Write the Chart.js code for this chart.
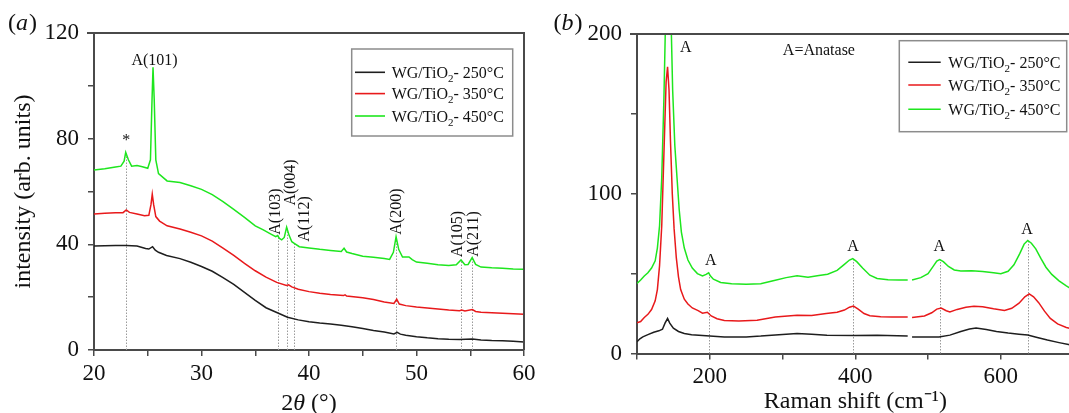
<!DOCTYPE html>
<html><head><meta charset="utf-8">
<script src="https://cdn.jsdelivr.net/npm/chart.js@4"></script>
<style>
html,body{margin:0;padding:0;background:#fff;overflow:hidden;width:1069px;height:413px;position:relative;}
#ca{position:absolute;left:0;top:0;}
#cb{position:absolute;left:540px;top:0;}
</style></head><body>
<canvas id="ca" width="540" height="413"></canvas>
<canvas id="cb" width="560" height="413"></canvas>
<script>
// ---------- DATA ----------
const seriesTemps = ['250°C', '350°C', '450°C'];
const seriesColors = ['#1e1e1e', '#e8191b', '#1ee61e'];

// (a) XRD
const xrdX_250 = [20,21,22,23,24,24.8,25.1,25.45,25.7,26,26.75,28,29,30,31,32,33,34,35,36,37,38,39,40,41,42,43,44,45,46,47,47.9,48.2,48.5,49,50,51,52,53,54,55.2,56,57,58,59,60];
const xrdY_250 = [39.4,39.5,39.6,39.6,39.4,38.4,38.2,39.1,37.8,37,35.8,34.6,33.2,31.6,29.8,27.4,24.8,21.8,18.8,16,14.2,12.4,11.4,10.7,10.2,9.8,9.4,8.8,8.1,7.4,6.8,6.1,6.7,6.0,5.6,5.0,4.6,4.3,4.1,4.0,4.2,3.8,3.6,3.5,3.3,3.0];

const xrdX_350 = [20,21,22,22.7,23,23.3,24,24.7,25.1,25.3,25.42,25.55,25.75,26.1,26.8,28,29,30,31,32,33,34,35,36,37,37.9,38.1,38.4,39,40,41,42,43.2,43.35,43.5,45,46,47,47.9,48.16,48.4,49,50,51,52,53,54,54.2,54.5,55.2,55.5,56,57,58,59,60];
const xrdY_350 = [51.5,51.8,52,52,53,52.1,51.5,50.8,51,55,59,55,50.5,48.8,47,45.8,44.6,43.2,41.2,38.6,35.8,32.8,30,27.6,25.6,24.4,24.7,23.9,23,22.1,21.5,21,20.6,20.9,20.4,19.8,19.1,18.2,17.6,19.2,17.4,16.8,16.3,15.9,15.5,15.1,14.9,15.1,14.8,15.3,14.6,14.3,14.1,13.9,13.7,13.5];

const xrdX_450 = [20,21,22,22.5,22.8,22.95,23.2,23.5,24,24.5,25,25.25,25.4,25.49,25.6,25.75,26,26.8,28,29,30,31,32,33,34,35,35.75,36.5,36.9,37.08,37.25,37.46,37.7,37.92,38.15,38.4,38.63,39.1,40,41,42,43,43.26,43.5,44,45,46,47,47.5,47.85,48.1,48.35,48.7,49.3,49.6,50,51,52,53,53.7,54.14,54.5,54.8,55.18,55.5,56,57,58,59,60];
const xrdY_450 = [68.1,68.6,69.3,69.6,71.5,74.8,72,69.6,69.8,69.4,68.8,72,95,107,95,72,66.8,64,63.4,62.2,60.8,58.8,56.2,53.2,50.2,47,45.5,43.8,42.9,43.3,42.2,41.7,42.6,46.5,43.4,41,40.4,39.1,38.6,38.1,37.7,37.3,38.5,37.1,36.5,35.5,35.1,34.6,34.3,37,42.9,38,35.2,35.2,34.2,33.3,32.8,32.3,32,32.3,34.1,32.3,32.4,35,32.4,31.4,31.1,30.9,30.7,30.6];

const xrdPeakX   = [22.95, 37.08, 37.92, 38.63, 48.1, 54.14, 55.18];
const xrdPeakTop = [74.8, 43.3, 46.5, 40.4, 42.9, 34.1, 35];
const xrdFlatLabels = ['*', 'A(101)'];
const xrdFlatX = [23.0, 25.63];
const xrdFlatY = [79.7, 109.7];
const xrdVertLabels = ['A(103)', 'A(004)', 'A(112)', 'A(200)', 'A(105)', 'A(211)'];
const xrdVertX = [36.85, 38.17, 39.47, 48.1, 53.75, 55.25];
const xrdVertY = [52.4, 63.4, 49.6, 52.4, 43.9, 43.9];

// (b) Raman
const ramX_250 = [100,104,108,115,123,130,135,138.5,142,145,150,157,165,175,185,200,220,250,270,295,320,340,361,400,430,472,475,478,500,515,530,545,557,566,580,594,610,625,637,650,664,680,693,700];
const ramY_250 = [7.3,9.2,10.4,11.8,13.3,14.2,15.2,19,21.9,19,15.8,13.8,12.5,11.8,11.4,10.9,10.4,10.4,10.9,11.8,12.5,12.1,11.5,11.3,11.5,10.9,null,10.4,10.3,10.4,11.5,13.8,15.3,15.9,15,13.8,12.8,12.1,11.6,10,8.4,6.8,5.6,4.9];

const ramX_350 = [100,105,110,115,120,125,128,131,134,137,140,142,144,146,148.5,151,154,157,160,165,170,176,184,190,196.7,202,210,220,240,265,290,320,340,360,375,385,392,397.5,404,412,420,435,450,472,475,478,495,505,512,518,525,530,540,552,563,575,590,605,615,625,633,639,645,652,660,668,678,690,700];
const ramY_350 = [19.2,20,22.5,24.5,27.5,33,40,55,80,125,170,179.5,165,133,100,78,60,48,40,34,31,28.5,26.8,25.2,25.8,23.5,21.8,20.7,20.3,20.8,22.8,24,23.8,25,25.8,27.2,29,29.7,27.8,25,23.6,23,22.8,22.8,null,22.5,23.5,25.5,27.8,28.4,26.8,26,27.6,29,29.6,29.2,28,27,28.3,31.5,35.5,37.3,35.5,31.8,26.5,22,18.5,16.3,15.2];

const ramX_450 = [100,105,110,115,120,125,128,131,134,137,139.5,143,146.5,149,152,155,158,161,165,170,176,183,190,195,198.5,201,205,215,230,250,270,290,305,320,335,350,362,375,385,392,396.5,402,410,420,430,445,460,472,475,478,490,500,507,512,516,521,528,536,545,560,575,590,600,610,618,626,632,637,642,648,655,662,670,680,690,700];
const ramY_450 = [43.8,46,48.5,50.5,53.5,58,66,80,110,160,215,290,215,165,130,110,90,76,66,58.5,53.5,50,48.5,49.5,50.5,48.5,46.5,44.5,43.6,43.4,43.6,45.8,47.5,48.6,47.8,48.8,49.6,52,55.8,58.5,59.4,57.5,53.5,49,47,46.2,46,46,null,46,47.5,50,54.5,57.8,58.8,57.5,54.5,52.3,51.7,51.8,51.3,50.5,50,51.5,55.5,62.5,68.5,70.8,69,65.5,59.5,54,49.5,45.5,42.3,39.5];

const ramPeakX   = [198.5, 396.5, 516, 637];
const ramPeakTop = [50.5, 59.4, 58.8, 70.8];
const ramLabels = ['A', 'A', 'A', 'A', 'A', 'A=Anatase'];
const ramLabelX = [167, 201.5, 397, 515.5, 636, 350];
const ramLabelY = [192, 58.6, 67.5, 67.5, 78, 190.4];

// ---------- STYLE ----------
const SERIF = "'Liberation Serif', 'Times New Roman', serif";
const AXIS = '#4a4a4a';
const TXT = '#111';

function pts(xs, ys) { return xs.map((x, i) => ({x: x, y: ys[i]})); }

function datasets(groups) {
  return groups.map((g, i) => ({
    label: 'WG/TiO2- ' + seriesTemps[i],
    data: pts(g[0], g[1]),
    borderColor: seriesColors[i],
    backgroundColor: seriesColors[i],
    borderWidth: 1.5,
    pointRadius: 0,
    tension: 0,
    fill: false,
    spanGaps: false
  }));
}

function axisCommon(min, max, step, labelEvery, pad) {
  return {
    type: 'linear', min: min, max: max,
    ticks: {
      stepSize: step, autoSkip: false, maxRotation: 0, includeBounds: false,
      callback: v => (Math.abs(v % labelEvery) < 1e-9 ? String(v) : ''),
      font: {family: SERIF, size: 23}, color: TXT, padding: pad
    },
    grid: {display: true, drawOnChartArea: false, drawTicks: true, tickLength: 6, color: AXIS, lineWidth: 1.5},
    border: {display: true, color: AXIS, width: 2}
  };
}

function drawLegend(ctx, box, lineX0, lineX1, textX, rows) {
  ctx.save();
  ctx.fillStyle = '#fff';
  ctx.fillRect(box[0], box[1], box[2] - box[0], box[3] - box[1]);
  ctx.strokeStyle = '#8c8c8c';
  ctx.lineWidth = 1.5;
  ctx.strokeRect(box[0], box[1], box[2] - box[0], box[3] - box[1]);
  seriesTemps.forEach((t, i) => {
    const y = rows[i];
    ctx.strokeStyle = seriesColors[i];
    ctx.lineWidth = 1.6;
    ctx.beginPath(); ctx.moveTo(lineX0, y); ctx.lineTo(lineX1, y); ctx.stroke();
    ctx.fillStyle = TXT;
    ctx.textBaseline = 'alphabetic';
    ctx.textAlign = 'left';
    ctx.font = '16px ' + SERIF;
    const base = y + 5.5;
    let x = textX;
    ctx.fillText('WG/TiO', x, base); x += ctx.measureText('WG/TiO').width;
    ctx.font = '11px ' + SERIF;
    ctx.fillText('2', x, base + 4); x += ctx.measureText('2').width;
    ctx.font = '16px ' + SERIF;
    ctx.fillText('- ' + t, x, base);
  });
  ctx.restore();
}

function drawPanelLabel(ctx, x, letter) {
  ctx.save();
  ctx.fillStyle = TXT;
  ctx.textBaseline = 'alphabetic';
  ctx.textAlign = 'left';
  ctx.font = '24px ' + SERIF;
  ctx.fillText('(', x, 30); x += ctx.measureText('(').width;
  ctx.font = 'italic 24px ' + SERIF;
  ctx.fillText(letter, x, 30); x += ctx.measureText(letter).width + 1;
  ctx.font = '24px ' + SERIF;
  ctx.fillText(')', x, 30);
  ctx.restore();
}

// x-axis title of (a) with italic theta
function drawThetaTitle(chart) {
  const ctx = chart.ctx, a = chart.chartArea;
  const parts = [['2', ''], ['θ', 'italic '], [' (°)', '']];
  ctx.save();
  ctx.fillStyle = TXT; ctx.textBaseline = 'alphabetic'; ctx.textAlign = 'left';
  let w = 0;
  parts.forEach(p => { ctx.font = p[1] + '24px ' + SERIF; w += ctx.measureText(p[0]).width; });
  let x = (a.left + a.right) / 2 - w / 2;
  parts.forEach(p => { ctx.font = p[1] + '24px ' + SERIF; ctx.fillText(p[0], x, 410); x += ctx.measureText(p[0]).width; });
  ctx.restore();
}

function frameLines(chart) {
  const a = chart.chartArea, ctx = chart.ctx;
  ctx.save();
  ctx.strokeStyle = AXIS; ctx.lineWidth = 2;
  ctx.beginPath();
  ctx.moveTo(a.left - 7, a.top); ctx.lineTo(a.right, a.top); ctx.lineTo(a.right, a.bottom);
  ctx.stroke();
  ctx.restore();
}

function dotted(chart, xs, tops) {
  const ctx = chart.ctx, sx = chart.scales.x, sy = chart.scales.y;
  ctx.save();
  ctx.strokeStyle = '#9a9a9a'; ctx.lineWidth = 1; ctx.setLineDash([1.5, 1.5]);
  xs.forEach((v, i) => {
    const px = Math.round(sx.getPixelForValue(v)) + 0.5;
    ctx.beginPath(); ctx.moveTo(px, sy.getPixelForValue(0)); ctx.lineTo(px, sy.getPixelForValue(tops[i])); ctx.stroke();
  });
  ctx.restore();
}

function texts(chart, labels, xs, ys, rotate, size) {
  const ctx = chart.ctx, sx = chart.scales.x, sy = chart.scales.y;
  ctx.save();
  ctx.fillStyle = TXT; ctx.font = size + 'px ' + SERIF;
  ctx.textAlign = 'center'; ctx.textBaseline = 'middle';
  labels.forEach((t, i) => {
    ctx.save();
    ctx.translate(sx.getPixelForValue(xs[i]), sy.getPixelForValue(ys[i]));
    if (rotate) ctx.rotate(-Math.PI / 2);
    ctx.fillText(t, 0, 1);
    ctx.restore();
  });
  ctx.restore();
}

// ---------- CHART (a) ----------
const xa = axisCommon(20, 60, 5, 10, 4);
xa.afterFit = s => { s.height = 63; };
const ya = axisCommon(0, 120, 20, 40, 9);
ya.afterFit = s => { s.width = 94; };
ya.title = {display: true, text: 'intensity (arb. units)', font: {family: SERIF, size: 24, lineHeight: 1.2}, color: TXT, padding: {top: 9, bottom: 0}};

new Chart(document.getElementById('ca'), {
  type: 'line',
  data: {datasets: datasets([[xrdX_250, xrdY_250], [xrdX_350, xrdY_350], [xrdX_450, xrdY_450]])},
  options: {
    responsive: false, animation: false,
    layout: {padding: {top: 33, right: 16, left: 0, bottom: 0}},
    plugins: {legend: {display: false}, tooltip: {enabled: false}},
    scales: {x: xa, y: ya}
  },
  plugins: [{
    id: 'decorA',
    beforeDatasetsDraw(chart) { dotted(chart, xrdPeakX, xrdPeakTop); },
    afterDatasetsDraw(chart) {
      frameLines(chart);
      texts(chart, xrdFlatLabels, xrdFlatX, xrdFlatY, false, 16);
      texts(chart, xrdVertLabels, xrdVertX, xrdVertY, true, 16);
      drawLegend(chart.ctx, [351.7, 49, 512.7, 136], 355, 385, 391.7, [72.3, 93.6, 116]);
      drawPanelLabel(chart.ctx, 8, 'a');
      drawThetaTitle(chart);
    }
  }]
});

// ---------- CHART (b) ----------
const xb = axisCommon(100, 700, 100, 200, 4);
xb.afterFit = s => { s.height = 59.5; };
xb.title = {display: true, text: 'Raman shift (cm⁻¹)', font: {family: SERIF, size: 24, lineHeight: 0.9}, color: TXT, padding: 0};
const yb = axisCommon(0, 200, 50, 100, 9);
yb.afterFit = s => { s.width = 97; };

new Chart(document.getElementById('cb'), {
  type: 'line',
  data: {datasets: datasets([[ramX_250, ramY_250], [ramX_350, ramY_350], [ramX_450, ramY_450]])},
  options: {
    responsive: false, animation: false,
    layout: {padding: {top: 34, right: 26.4, left: 0, bottom: 0}},
    plugins: {legend: {display: false}, tooltip: {enabled: false}},
    scales: {x: xb, y: yb}
  },
  plugins: [{
    id: 'decorB',
    beforeDatasetsDraw(chart) { dotted(chart, ramPeakX, ramPeakTop); },
    afterDatasetsDraw(chart) {
      frameLines(chart);
      texts(chart, ramLabels, ramLabelX, ramLabelY, false, 16);
      drawLegend(chart.ctx, [359.3, 40.7, 526.7, 131.7], 368.3, 400.7, 408.3, [62.3, 85, 109.3]);
      drawPanelLabel(chart.ctx, 13.5, 'b');
    }
  }]
});
</script>
</body></html>
